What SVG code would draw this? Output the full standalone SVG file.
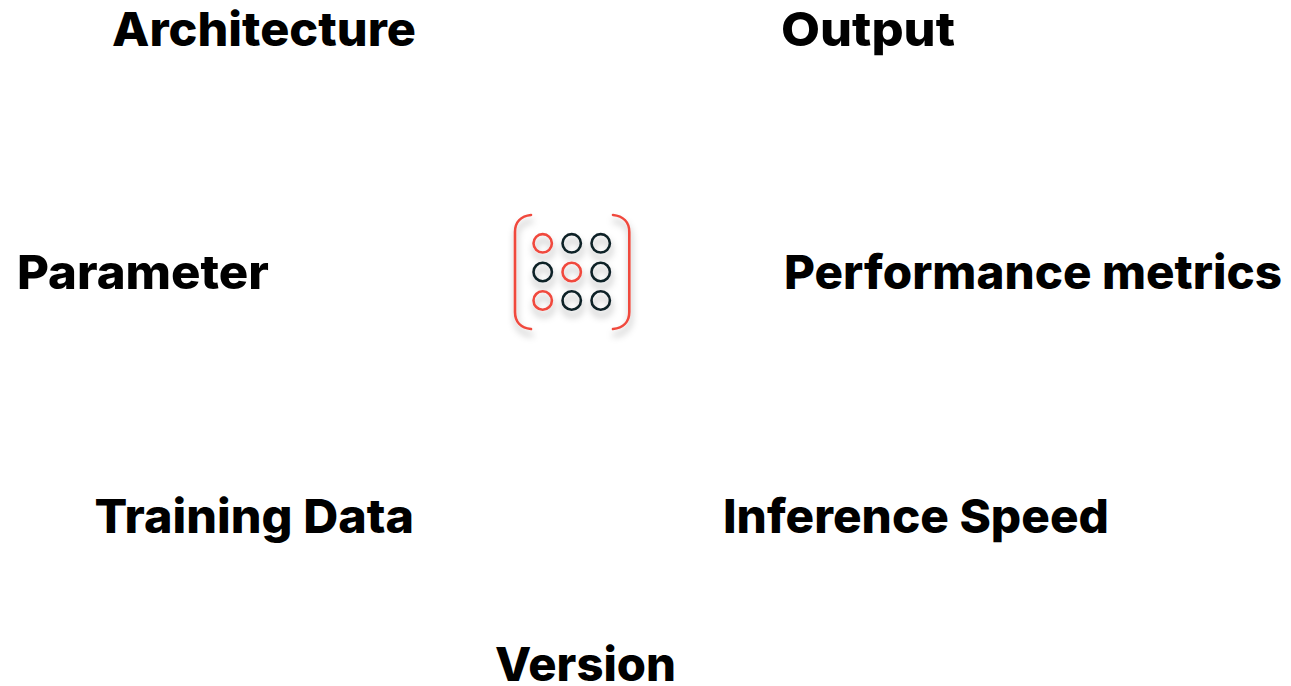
<svg xmlns="http://www.w3.org/2000/svg" width="1291" height="686" viewBox="0 0 1291 686">
<style>
text{font-family:"Inter","Liberation Sans",sans-serif;font-weight:800;font-size:47px;fill:#000}
.r{fill:none;stroke:#f0483e;stroke-width:2.600;stroke-linecap:round}
.k{fill:none;stroke:#0f2028;stroke-width:2.600}
</style>
<defs><filter id="s" x="-30%" y="-30%" width="160%" height="160%"><feDropShadow dx="1" dy="6" stdDeviation="3.500" flood-color="#000" flood-opacity=".32"/></filter></defs>
<rect width="1291" height="686" fill="#fff"/>
<g id="connectors"/>
<g id="center" filter="url(#s)">
<path class="r" d="M531 215C521 216 515 222 515 232V312C515 322 521 328 531 329"/>
<path class="r" d="M613 215C623 216 629.300 222 629.300 232V312C629.300 322 623 328 613 329"/>
<circle class="r" cx="542.700" cy="243.300" r="9.200"/><circle class="k" cx="571.700" cy="243.300" r="9.200"/><circle class="k" cx="600.700" cy="243.300" r="9.200"/>
<circle class="k" cx="542.700" cy="272" r="9.200"/><circle class="r" cx="571.700" cy="272" r="9.200"/><circle class="k" cx="600.700" cy="272" r="9.200"/>
<circle class="r" cx="542.700" cy="300.500" r="9.200"/><circle class="k" cx="571.700" cy="300.500" r="9.200"/><circle class="k" cx="600.700" cy="300.500" r="9.200"/>
</g>
<g id="architecture"><text x="112" y="46" textLength="304" lengthAdjust="spacingAndGlyphs">Architecture</text></g>
<g id="output"><text x="781" y="46" textLength="174" lengthAdjust="spacingAndGlyphs">Output</text></g>
<g id="parameter"><text x="17" y="289" textLength="252" lengthAdjust="spacingAndGlyphs">Parameter</text></g>
<g id="performance"><text x="784" y="289" textLength="498" lengthAdjust="spacingAndGlyphs">Performance metrics</text></g>
<g id="training"><text x="94.500" y="533" textLength="319.500" lengthAdjust="spacingAndGlyphs">Training Data</text></g>
<g id="inference"><text x="723" y="533" textLength="386" lengthAdjust="spacingAndGlyphs">Inference Speed</text></g>
<g id="version"><text x="495" y="681" textLength="181" lengthAdjust="spacingAndGlyphs">Version</text></g>
</svg>
